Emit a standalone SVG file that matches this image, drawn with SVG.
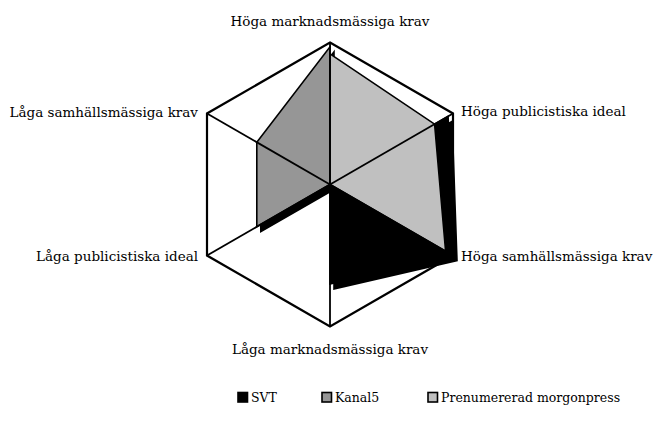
<svg xmlns="http://www.w3.org/2000/svg" xmlns:xlink="http://www.w3.org/1999/xlink" width="658" height="433" viewBox="0 0 658 433">
  <style>
    .lbl { font-family: "DejaVu Serif", "Liberation Serif", serif; font-size: 13.5px; fill: #000; }
    .key-text { font-family: "DejaVu Serif", "Liberation Serif", serif; font-size: 12.5px; fill: #000; }
    .series { stroke: #000; stroke-width: 1.6; stroke-linejoin: miter; }
    .shadow { fill: #000; stroke: #000; stroke-width: 1.6; }
    .axis { stroke: #000; stroke-width: 1.8; fill: none; }
    .frame { stroke: #000; stroke-width: 2.2; fill: none; stroke-linejoin: miter; }
    .key { stroke: #000; stroke-width: 1.6; }
  </style>
  <defs>
    <!-- centre (330,184.5), radius 142 -->
    <polygon id="p-svt" points="330,184.5 448.1,116.3 453,255.5 330,283.9"/>
    <polygon id="p-kanal5" points="330,46.8 330,184.5 256.8,226.7 256.8,142.3"/>
    <polygon id="p-morgon" points="330,53.9 434.6,124.1 445.6,251.2 330,184.5"/>
  </defs>

  <!-- data series, each with its drop shadow -->
  <g id="series-svt">
    <use xlink:href="#p-svt" class="shadow" transform="translate(4,5)"/>
    <use xlink:href="#p-svt" class="series" fill="#000000"/>
  </g>
  <g id="series-kanal5">
    <use xlink:href="#p-kanal5" class="shadow" transform="translate(4,5)"/>
    <use xlink:href="#p-kanal5" class="series" fill="#969696"/>
  </g>
  <g id="series-morgonpress">
    <use xlink:href="#p-morgon" class="shadow" transform="translate(4,5)"/>
    <use xlink:href="#p-morgon" class="series" fill="#c0c0c0"/>
  </g>

  <!-- spokes and outer hexagon -->
  <g id="axes">
    <line class="axis" x1="330" y1="184.5" x2="330" y2="42.5"/>
    <line class="axis" x1="330" y1="184.5" x2="453" y2="113.5"/>
    <line class="axis" x1="330" y1="184.5" x2="453" y2="255.5"/>
    <line class="axis" x1="330" y1="184.5" x2="330" y2="326.5"/>
    <line class="axis" x1="330" y1="184.5" x2="207" y2="255.5"/>
    <line class="axis" x1="330" y1="184.5" x2="207" y2="113.5"/>
    <polygon class="frame" points="330,42.5 453,113.5 453,255.5 330,326.5 207,255.5 207,113.5"/>
  </g>

  <!-- category labels -->
  <g id="labels">
    <text class="lbl" x="330" y="26" text-anchor="middle">Höga marknadsmässiga krav</text>
    <text class="lbl" x="461" y="116">Höga publicistiska ideal</text>
    <text class="lbl" x="461" y="261">Höga samhällsmässiga krav</text>
    <text class="lbl" x="330" y="354" text-anchor="middle">Låga marknadsmässiga krav</text>
    <text class="lbl" x="198" y="261" text-anchor="end">Låga publicistiska ideal</text>
    <text class="lbl" x="198" y="117" text-anchor="end">Låga samhällsmässiga krav</text>
  </g>

  <!-- legend -->
  <g id="legend">
    <g id="legend-svt">
      <rect class="key" x="238" y="392.5" width="9.5" height="9.5" fill="#000000"/>
      <text class="key-text" x="251" y="402">SVT</text>
    </g>
    <g id="legend-kanal5">
      <rect class="key" x="322" y="392.5" width="9.5" height="9.5" fill="#969696"/>
      <text class="key-text" x="335" y="402">Kanal5</text>
    </g>
    <g id="legend-morgonpress">
      <rect class="key" x="428" y="392.5" width="9.5" height="9.5" fill="#c0c0c0"/>
      <text class="key-text" x="441" y="402">Prenumererad morgonpress</text>
    </g>
  </g>
</svg>
